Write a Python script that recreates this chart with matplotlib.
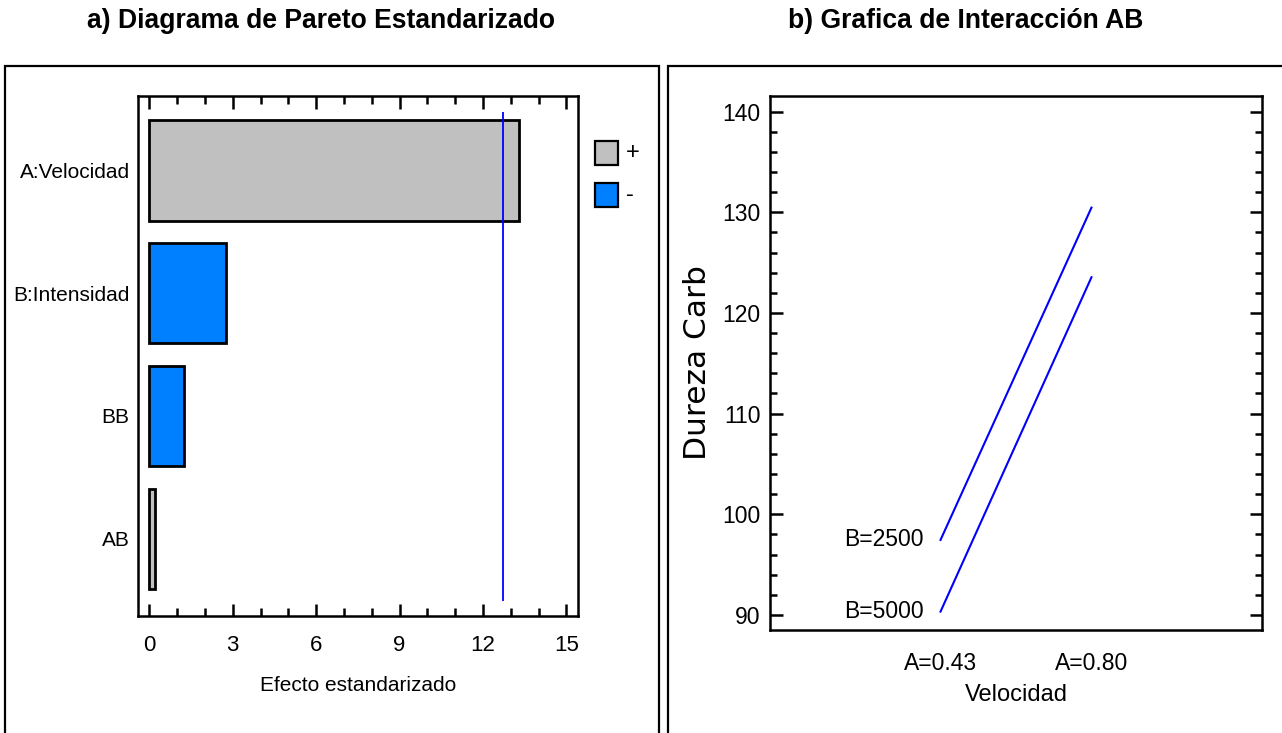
import matplotlib
matplotlib.use("Agg")
import matplotlib.pyplot as plt
from matplotlib.patches import Rectangle
from matplotlib.ticker import MultipleLocator

# datos del diagrama de Pareto
factores = ["A:Velocidad", "B:Intensidad", "BB", "AB"]
efectos = [13.30, 2.74, 1.26, 0.21]
signos = ["+", "-", "-", "+"]
t_critico = 12.706

# datos de la grafica de interaccion
velocidad = [0.43, 0.80]
etiquetas_vel = ["A=0.43", "A=0.80"]
dureza_b2500 = [97.45, 130.47]
dureza_b5000 = [90.33, 123.55]

gris = "#C0C0C0"
azul = "#0080FF"
W, H = 1282, 733

plt.rcParams["font.family"] = ["Liberation Sans", "DejaVu Sans"]

fig = plt.figure(figsize=(W / 100, H / 100), dpi=100)

# marcos de cada panel
fig.patches.append(Rectangle((5 / W, -0.05), 654 / W, 1 - 66 / H + 0.05,
                             transform=fig.transFigure, fill=False, lw=1.6, ec="black"))
fig.patches.append(Rectangle((668 / W, -0.05), 0.5, 1 - 66 / H + 0.05,
                             transform=fig.transFigure, fill=False, lw=1.6, ec="black"))

fig.text(321 / W, 1 - 21 / H, "a) Diagrama de Pareto Estandarizado", ha="center", va="center",
         fontsize=19.1, fontweight="bold")
fig.text(966 / W, 1 - 21 / H, "b) Grafica de Interacción AB", ha="center", va="center",
         fontsize=19.1, fontweight="bold")

# ---------------- a) Pareto ----------------
ax1 = fig.add_axes([138 / W, 1 - 616 / H, 440 / W, 520 / H])
pos = list(range(len(factores)))
colores = [gris if s == "+" else azul for s in signos]
ax1.barh(pos, efectos, height=0.815, color=colores, edgecolor="black", linewidth=2)
ax1.vlines(t_critico, -0.48, 3.51, color="#0000FF", lw=1.3)
ax1.set_ylim(3.63, -0.607)
ax1.set_xlim(-0.41, 15.42)
ax1.set_yticks(pos)
ax1.set_yticklabels(factores, fontsize=15)
ax1.tick_params(axis="y", length=0, pad=6)
ax1.xaxis.set_major_locator(MultipleLocator(3))
ax1.xaxis.set_minor_locator(MultipleLocator(1))
ax1.tick_params(axis="x", which="both", direction="in", top=True, width=1.8, labelsize=16, pad=14)
ax1.tick_params(axis="x", which="major", length=9)
ax1.tick_params(axis="x", which="minor", length=6)
ax1.set_xlabel("Efecto estandarizado", fontsize=15, labelpad=14)
for s in ax1.spines.values():
    s.set_linewidth(1.8)

# leyenda
for i, (color, signo) in enumerate([(gris, "+"), (azul, "-")]):
    y0 = 1 - (141 + i * 42) / H
    fig.patches.append(Rectangle((595 / W, y0 - 24 / H), 23 / W, 24 / H,
                                 transform=fig.transFigure, fc=color, ec="black", lw=1.6))
    fig.text(626 / W, y0 - 12 / H, signo, ha="left", va="center", fontsize=17)

# ---------------- b) Interaccion ----------------
ax2 = fig.add_axes([770 / W, 1 - 630 / H, 492 / W, 534 / H])
ax2.plot(velocidad, dureza_b2500, color="#0000FF", lw=1.5)
ax2.plot(velocidad, dureza_b5000, color="#0000FF", lw=1.5)
ax2.text(velocidad[0] - 0.042, dureza_b2500[0], "B=2500", ha="right", va="center", fontsize=16.5)
ax2.text(velocidad[0] - 0.042, dureza_b5000[0], "B=5000", ha="right", va="center", fontsize=16.5)
ax2.set_xlim(0.012, 1.218)
ax2.set_ylim(88.5, 141.56)
ax2.set_xticks(velocidad)
ax2.set_xticklabels(etiquetas_vel, fontsize=16.5)
ax2.tick_params(axis="x", length=0, pad=16)
ax2.yaxis.set_major_locator(MultipleLocator(10))
ax2.yaxis.set_minor_locator(MultipleLocator(2))
ax2.tick_params(axis="y", which="both", direction="in", right=True, width=1.8, labelsize=16.5, pad=7)
ax2.tick_params(axis="y", which="major", length=9)
ax2.tick_params(axis="y", which="minor", length=5)
ax2.set_xlabel("Velocidad", fontsize=17, labelpad=6)
ax2.set_ylabel("Dureza Carb", fontsize=22.5, family=["DejaVu Sans"])
ax2.yaxis.set_label_coords(-0.118, 0.5)
for s in ax2.spines.values():
    s.set_linewidth(1.8)

fig.savefig("out.png", dpi=100)
